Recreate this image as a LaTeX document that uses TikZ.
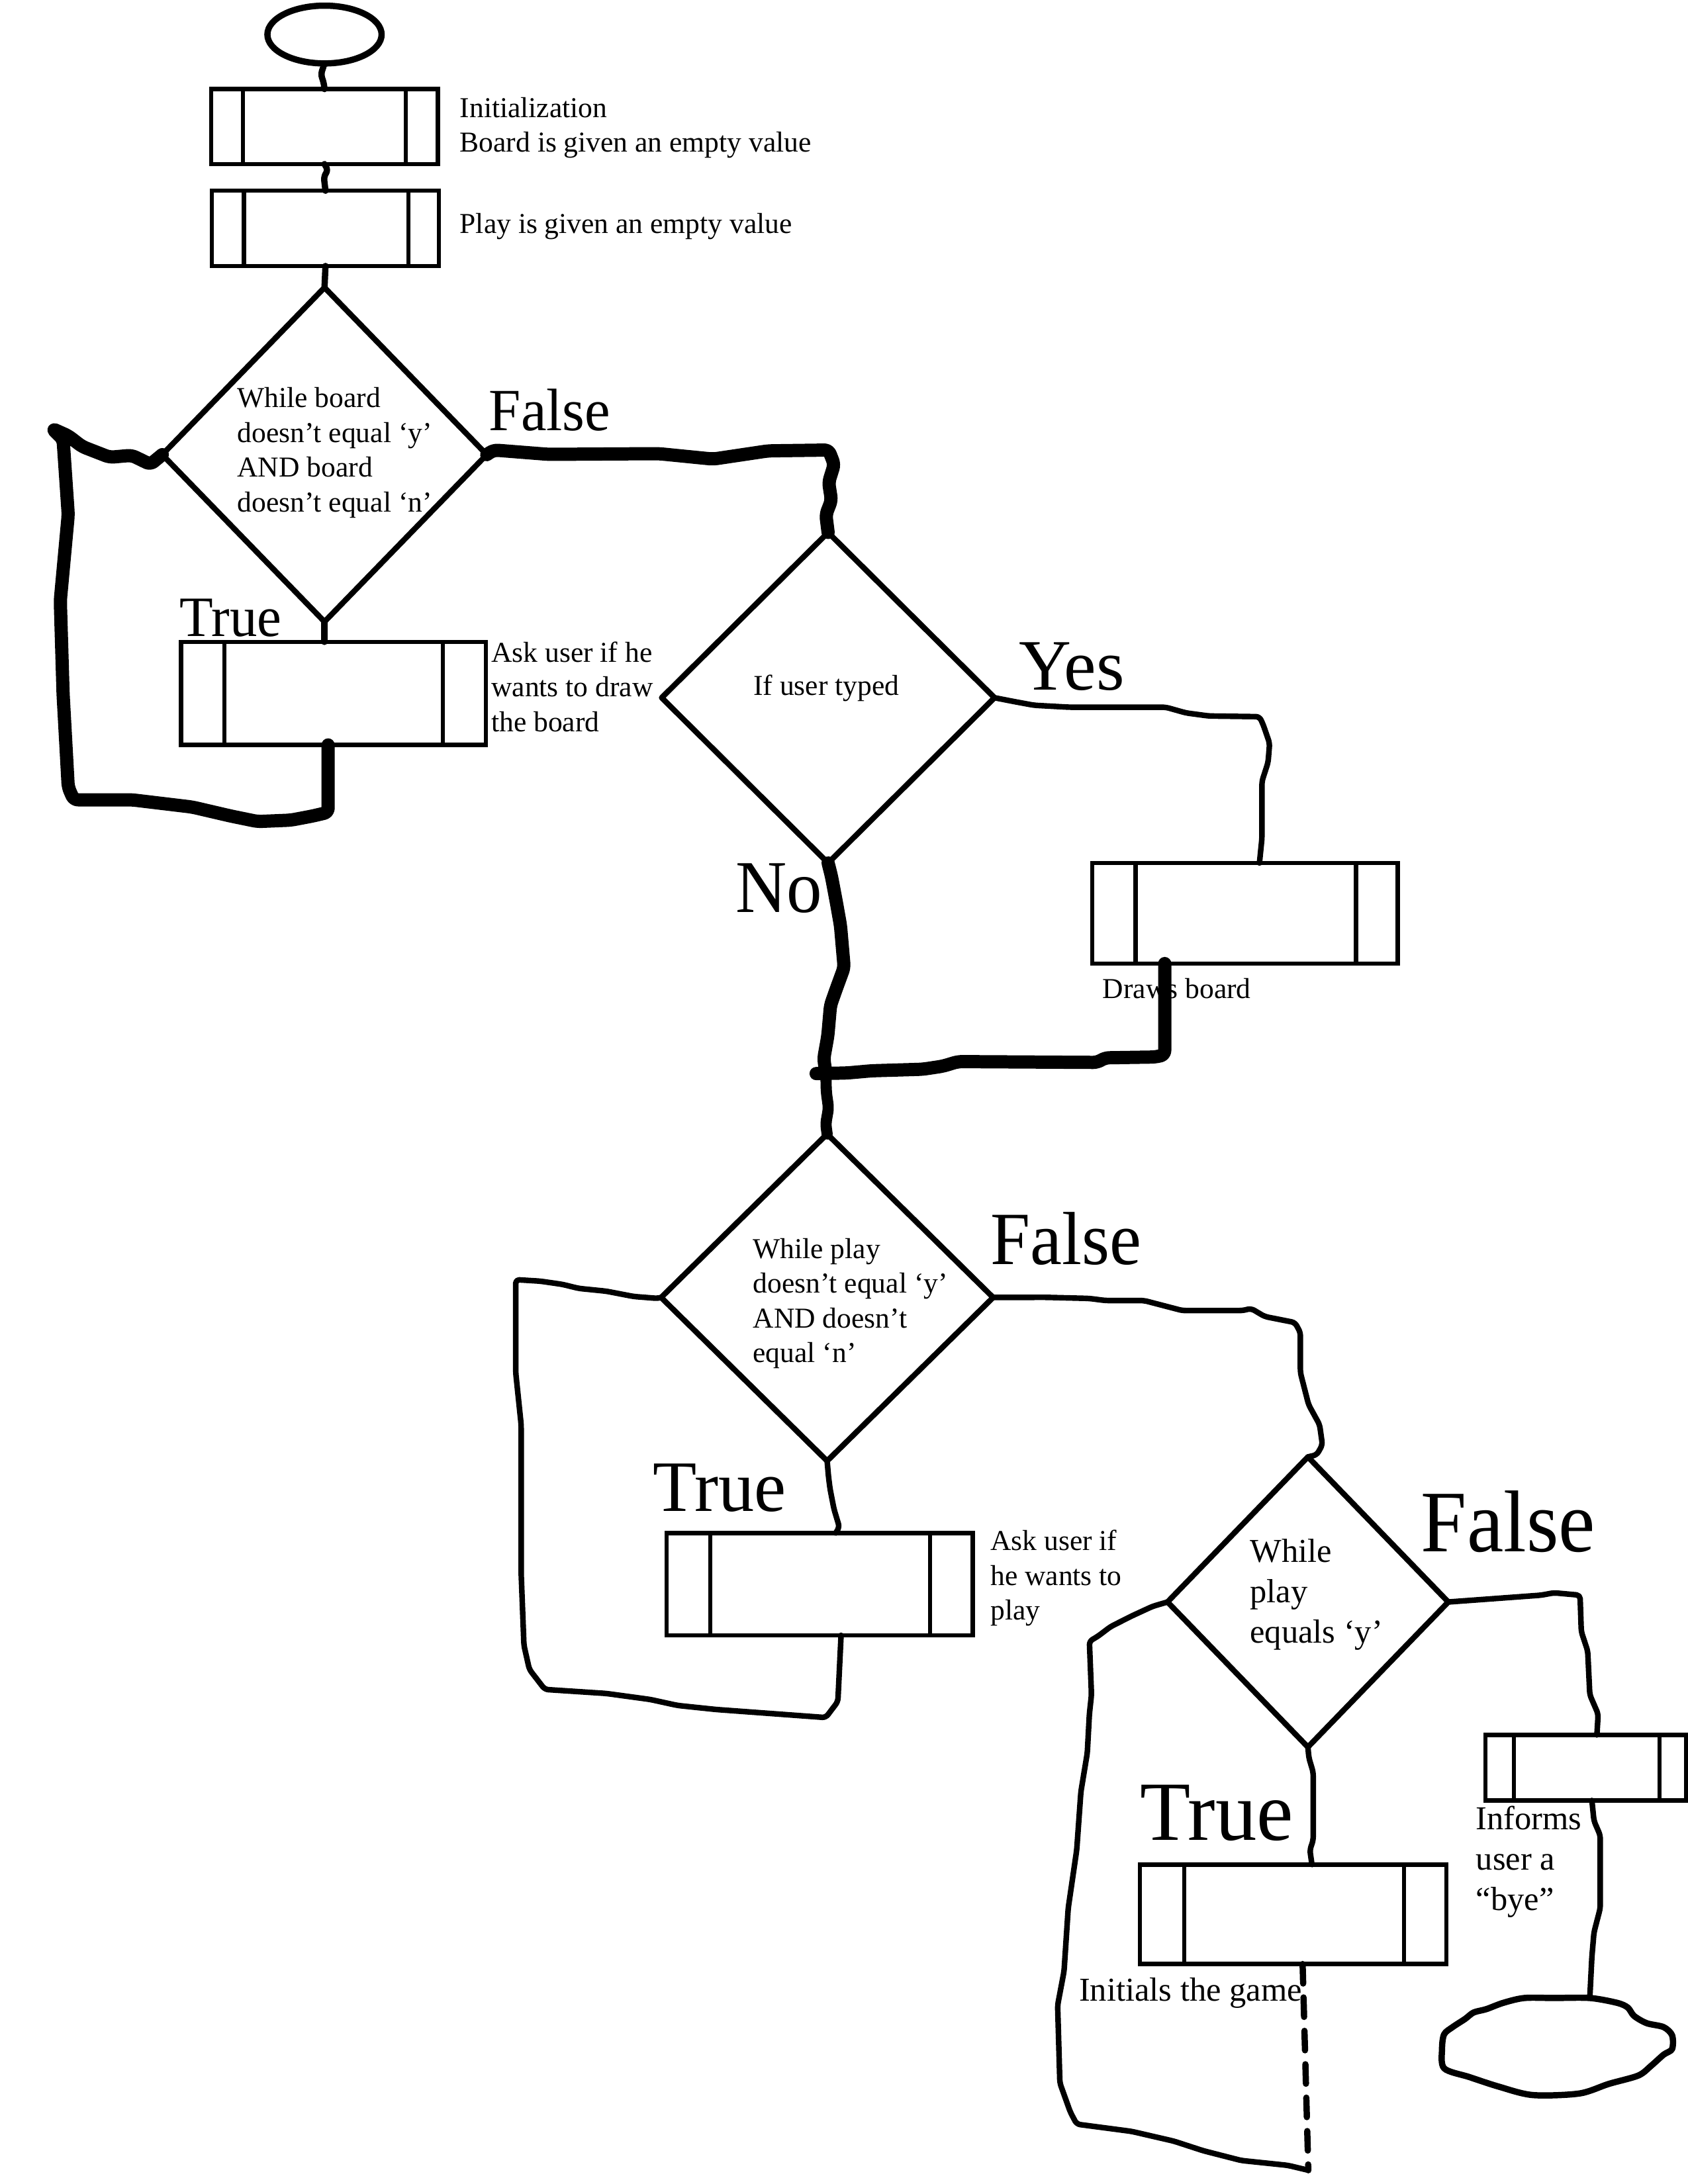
\documentclass[tikz,border=0pt]{standalone}
\usepackage{fontspec}
\setmainfont{Liberation Serif}
\usepackage{graphicx}
\usetikzlibrary{shapes.geometric}
\tikzset{
 boxline/.style={line width=3pt},
 proc/.style={draw, rectangle, line width=3pt, inner sep=0pt, outer sep=0pt},
 dec/.style={draw, diamond, line width=4pt, inner sep=0pt, outer sep=0pt, line join=round},
 term/.style={draw, ellipse, line width=4.5pt, inner sep=0pt, outer sep=0pt},
 handline/.style={line width=4pt, line join=round, line cap=round, rounded corners=2.5pt},
 heavyline/.style={line width=9.5pt, line join=round, line cap=round, rounded corners=3pt},
 txt/.style={font=\fontsize{20.7}{25}\selectfont, inner sep=0pt, align=left, anchor=west},
 wtxt/.style={font=\fontsize{24}{29}\selectfont, inner sep=0pt, align=left, anchor=west},
 lbl/.style={inner sep=0pt, anchor=base west},
}
\newcommand\prclines[3]{%
 \draw[boxline] ([xshift=#2pt]#1.north west) -- ([xshift=#2pt]#1.south west);
 \draw[boxline] ([xshift=-#3pt]#1.north east) -- ([xshift=-#3pt]#1.south east);}
\newcommand\biglbl[3]{\fontsize{#1}{#1}\selectfont\scalebox{#2}[1]{#3}}
\begin{document}
\begin{tikzpicture}[x=1pt,y=-1pt]
\fill[white] (0,0) rectangle (1212,1568.5);
\useasboundingbox (0,0) rectangle (1212,1568.5);

% ---------- nodes ----------
\node[term, minimum width=82pt, minimum height=41.5pt] (s) at (233,24.8) {};
\node[proc, minimum width=162.9pt, minimum height=53.8pt] (b1) at (233,90.9) {};
\prclines{b1}{23}{23}
\node[proc, minimum width=163.1pt, minimum height=54pt] (b2) at (233.7,164) {};
\prclines{b2}{23}{22}
\node[dec, minimum width=233pt, minimum height=240pt] (d1) at (233,326.5) {};
\node[proc, minimum width=219pt, minimum height=74pt] (b3) at (239.5,498) {};
\prclines{b3}{31}{31}
\node[dec, minimum width=239pt, minimum height=237.4pt] (d2) at (594.6,501.1) {};
\node[proc, minimum width=219.3pt, minimum height=72.2pt] (b4) at (894,655.9) {};
\prclines{b4}{31}{30}
\node[dec, minimum width=238.4pt, minimum height=234.8pt] (d3) at (593.9,931.8) {};
\node[proc, minimum width=219.9pt, minimum height=73.4pt] (b5) at (588.5,1137.7) {};
\prclines{b5}{31.6}{30.7}
\node[dec, minimum width=201.6pt, minimum height=208.4pt] (d4) at (939.1,1150.5) {};
\node[proc, minimum width=144pt, minimum height=47pt] (b6) at (1138.5,1269.5) {};
\prclines{b6}{20.4}{19}
\node[proc, minimum width=219.8pt, minimum height=71.4pt] (b7) at (928.5,1374.8) {};
\prclines{b7}{31.8}{30.3}

% ---------- texts ----------
\node[txt] (t1) at (330,91.7) {Initialization\\Board is given an empty value};
\node[txt] (t2) at (330,162.8) {Play is given an empty value};
\node[txt] (t3) at (170.2,325.2) {While board\\doesn’t equal ‘y’\\AND board\\doesn’t equal ‘n’};
\node[txt] (t4) at (352.6,493.3) {Ask user if he\\wants to draw\\the board};
\node[txt, anchor=center] (t5) at (593.3,494.3) {If user typed};
\node[txt] (t6) at (791.6,710) {Draws board};
\node[txt] (t7) at (540.5,936.1) {While play\\doesn’t equal ‘y’\\AND doesn’t\\equal ‘n’};
\node[txt] (t8) at (711,1133.4) {Ask user if\\he wants to\\play};
\node[wtxt] (t9) at (897.4,1145) {While\\play\\equals ‘y’};
\node[wtxt] (t10) at (1059.6,1337.3) {Informs\\user a\\“bye”};
\node[wtxt] (t11) at (774.6,1431.4) {Initials the game};

% ---------- branch labels ----------
\node[lbl] (f1) at (351,309.1) {\biglbl{43}{0.96}{False}};
\node[lbl] (tr1) at (129,457.2) {\biglbl{41}{0.96}{True}};
\node[lbl] (y1) at (731.6,495.6) {\biglbl{52}{1.0}{Yes}};
\node[lbl] (n1) at (527.9,655.2) {\biglbl{53.5}{0.95}{No}};
\node[lbl] (f2) at (711,908) {\biglbl{54}{0.95}{False}};
\node[lbl] (tr2) at (468.8,1085.2) {\biglbl{52}{0.99}{True}};
\node[lbl] (f3) at (1020.2,1114.3) {\biglbl{63}{0.94}{False}};
\node[lbl] (tr3) at (818.6,1321.6) {\biglbl{60.5}{0.98}{True}};

% ---------- connectors ----------
\draw[handline, line width=4.5pt] (s.south) -- (230.4,53.4) -- (232.5,59.6) -- (b1.north);
\draw[handline, line width=4.5pt] (b1.south) -- (235.5,122.2) -- (232.5,126.9) -- (b2.north);
\draw[handline, line width=4.5pt] (b2.south) -- (d1.north);
\draw[handline, line width=4.5pt] (d1.south) -- (d1.south |- b3.north);

\draw[heavyline] ([xshift=-3.9pt]b3.south) -- (235.6,583.4) -- (224.6,586) -- (208.8,589)
  -- (185,590) -- (165.5,586) -- (138,579.6) -- (94.6,574.4) -- (53,574.4) -- (49,565.4)
  -- (45.3,498.4) -- (43.3,431.4) -- (49,369.6) -- (45.3,315.5) -- (37.4,307.8) -- (49,313)
  -- (59,320.7) -- (78.8,328.4) -- (94.6,327) -- (108,333.5) -- (d1.west);

\draw[heavyline] (d1.east) -- (354.6,323.2) -- (394,326.3) -- (472.8,325.8) -- (512,329.7)
  -- (551.6,323.8) -- (595,323.2) -- (599,333.5) -- (595,346.4) -- (597,359.3) -- (593,369.6)
  -- (d2.north);

\draw[handline] (d2.east) -- (727.9,503.8) -- (742.5,506.5) -- (767.9,507.9) -- (837,507.9)
  -- (851.6,512) -- (868,514.2) -- (904.3,514.7) -- (906.9,520.2) -- (911.6,533.8)
  -- (910.5,547.5) -- (906.1,561.1) -- (906.1,602) -- ([xshift=10.3pt]b4.north);

\coordinate (j) at (593,771);
\coordinate (jl) at (586,771);
\draw[heavyline] (d2.south) -- (597,629.3) -- (600.6,648.4) -- (603.5,664.8) -- (606.1,694.8)
  -- (600.6,709.8) -- (596.3,722) -- (594.4,743.9) -- (591.5,760.2) -- (j);
\draw[heavyline] ([xshift=-57.7pt]b4.south) -- (836.3,757.5) -- (829.7,759.1) -- (793.4,759.7)
  -- (787.9,763) -- (687.9,762.4) -- (677,765.7) -- (662.4,767.9) -- (626,769) -- (607.9,770.6)
  -- (jl);
\draw[heavyline, line width=8pt] (j) -- (593.3,784.3) -- (594.9,795.7) -- (592.9,807.2) -- (d3.north);

\draw[handline] (d3.east) -- (750.5,931.7) -- (782,932.5) -- (793.8,934) -- (821.4,934)
  -- (849,941.2) -- (892.3,941.2) -- (898.3,939.7) -- (908.1,945.5) -- (929.8,949.8)
  -- (933.7,957) -- (933.7,985.8) -- (939.6,1008.8) -- (947.5,1023.2) -- (949.5,1037.6)
  -- (945.5,1044.8) -- (d4.north);

\draw[handline] (d3.south) -- (594.9,1060.7) -- (596,1069.3) -- (598.8,1083.7) -- (602.7,1096.7)
  -- ([xshift=11.5pt]b5.north);

\draw[handline] ([xshift=15.4pt]b5.south) -- (601.6,1222) -- (592.9,1233.5) -- (553.5,1230.6)
  -- (514.1,1227.7) -- (486.5,1224.8) -- (466.8,1220.5) -- (435.3,1216.2) -- (391.2,1213.3)
  -- (380.1,1198.9) -- (376.2,1181.6) -- (374.2,1129.8) -- (374.2,1023.2) -- (370.3,985.8)
  -- (370.3,919) -- (388,920.1) -- (403.8,922.4) -- (415.6,925.3) -- (435.3,927.3)
  -- (455,931.1) -- (472.7,932.5) -- (d3.west);

\draw[handline] (d4.east) -- (1106.6,1145.6) -- (1115.7,1143.9) -- (1134.5,1145.6)
  -- (1135.4,1171.8) -- (1140,1185.7) -- (1141.5,1217.1) -- (1147.5,1231)
  -- ([xshift=8.1pt]b6.north);

\coordinate (e) at (1141.5,1434.9);
\draw[handline] ([xshift=4.5pt]b6.south) -- (1144.5,1307.7) -- (1149,1318.1) -- (1149,1370.4)
  -- (1144.5,1387.8) -- (1143,1405.3) -- (e);

\draw[handline] (d4.south) -- (939.8,1262.4) -- (942.9,1272.8) -- (942.9,1321.6)
  -- (940.5,1328.6) -- ([xshift=13.5pt]b7.north);

\coordinate (lb) at (939.4,1558.6);
\draw[handline, line width=4.5pt, rounded corners=0pt, dash pattern=on 14pt off 10pt] ([xshift=6.8pt]b7.south) -- (lb);
\draw[handline] (lb) -- (924.7,1555.1) -- (891.3,1551.6) -- (864,1544.6) -- (842.8,1537.7)
  -- (812.5,1530.7) -- (773.1,1525.5) -- (768.5,1516.8) -- (761,1495.9) -- (759.4,1440.1)
  -- (764,1415.7) -- (767,1370.4) -- (773.1,1328.6) -- (776.1,1286.8) -- (780.7,1258.9)
  -- (782.2,1231) -- (783.7,1217.1) -- (782.2,1178.7) -- (788.2,1175.2) -- (797.3,1168.3)
  -- (812.5,1160.6) -- (827.7,1153.6) -- (d4.west);

% hand-drawn end terminal
\draw[handline, line width=4.5pt, rounded corners=0pt] plot[smooth cycle, tension=0.5] coordinates {
 (e) (1161.2,1438.4) (1168.8,1441.8) (1173.3,1447.8) (1182.4,1453) (1194.5,1455.8)
 (1200.6,1461.7) (1200.6,1471.5) (1194.5,1475.6) (1185.4,1483.7) (1176.3,1490.6)
 (1155.1,1496.6) (1133.9,1503.5) (1100.5,1504.6) (1076.3,1498.6) (1055.1,1491.7)
 (1036.9,1485.4) (1035.4,1471.5) (1036.9,1461) (1043,1455.8) (1052,1449.9) (1058.1,1445.3)
 (1067.2,1442.9) (1079.3,1438.4) (1094.5,1434.9) (1115.7,1434.9)};
\end{tikzpicture}
\end{document}
